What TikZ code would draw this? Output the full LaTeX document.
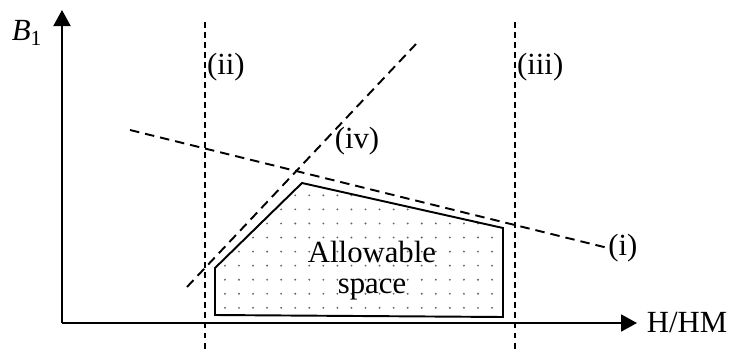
\documentclass[tikz,border=0pt]{standalone}
\usepackage{fontspec}
\setmainfont{Liberation Serif}
\usepackage{tikz}
\usetikzlibrary{arrows.meta, patterns.meta}

\begin{document}
\begin{tikzpicture}[
    font=\fontsize{17.5}{20}\selectfont,
    axis/.style={line width=1.1pt, -{Triangle[length=0.32cm, width=0.34cm]}},
    bound/.style={line width=1.1pt, dash pattern=on 3.4pt off 2.3pt},
    slant/.style={line width=1.1pt, dash pattern=on 5.4pt off 3.4pt},
    region/.style={line width=1.1pt, line join=miter,
      pattern={Dots[distance=8pt, radius=0.6pt]}, pattern color=black!60}]
  \useasboundingbox (0,0) rectangle (14.6,7);
  % Axes
  \coordinate (O) at (1.24,0.54);
  \draw[axis] (O) -- (12.74,0.54) coordinate (xend);
  \draw[axis] (O) -- (1.24,6.8) coordinate (yend);
  \node (xlab) at (13.74,0.54) {H/HM};
  \node (ylab) at (0.54,6.34) {\textit{B}\textsubscript{1}};
  % Allowable space
  \draw[region] (4.3,0.7) -- (4.3,1.64) -- (6.04,3.34) -- (10.06,2.44)
    -- (10.06,0.66) -- cycle;
  \node (allow) at (7.44,1.96) {Allowable};
  \node (space) at (7.44,1.2) {space};
  % Constraint (ii) and (iii)
  \draw[bound] (4.1,6.56) -- (4.1,0);
  \node[right, inner sep=1pt] (ii) at (4.1,5.66) {(ii)};
  \draw[bound] (10.3,6.56) -- (10.3,0);
  \node[right, inner sep=1pt] (iii) at (10.3,5.66) {(iii)};
  % Constraint (i)
  \draw[slant] (2.6,4.4) -- (12.16,2.04) coordinate (iend);
  \node[right, inner sep=0pt] (i) at (iend) {(i)};
  % Constraint (iv)
  \draw[slant] (3.74,1.26) -- (8.32,6.12);
  \node (iv) at (7.14,4.18) {(iv)};
\end{tikzpicture}
\end{document}
